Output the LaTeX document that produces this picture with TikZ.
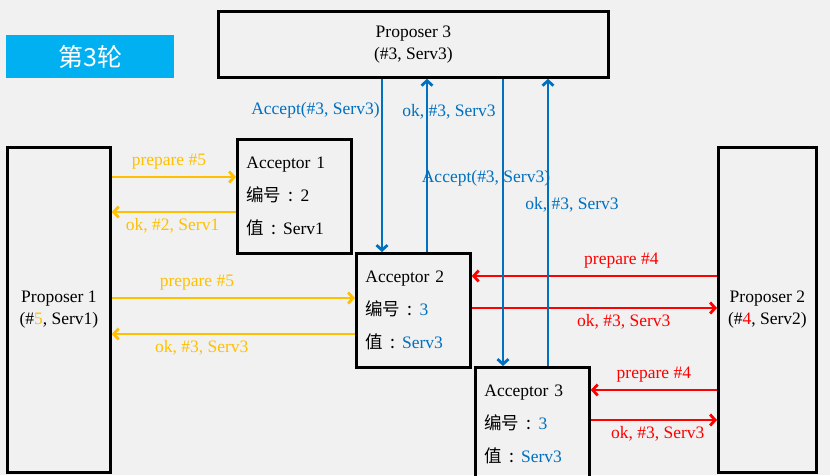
\documentclass[tikz,border=0pt]{standalone}
\usepackage{fontspec}
\setmainfont{Liberation Serif}
\newfontfamily\cjk{Noto Sans CJK SC}
\usetikzlibrary{arrows.meta}
\definecolor{gold}{HTML}{FFC000}
\definecolor{msred}{HTML}{FF0000}
\definecolor{msblue}{HTML}{0070C0}
\definecolor{titleblue}{HTML}{00B0F0}
\definecolor{paper}{HTML}{F1F1F1}
\newcommand{\numlbl}{{\cjk 编号\makebox[1.1em]{:}}}
\newcommand{\vallbl}{{\cjk 值\makebox[1.1em]{:}}}

\begin{document}
\begin{tikzpicture}
[x=1pt,y=-1pt,font=\fontsize{17.5}{22}\selectfont,
 box/.style={draw=black,line width=2.8pt,inner sep=0pt,align=center,anchor=north west},
 acc/.style={box,align=left,text width=96pt,inner xsep=9pt,minimum height=114pt,
   font=\fontsize{17.5}{33}\selectfont},
 msg/.style={-{Straight Barb[length=5pt,width=11pt]},line width=2.8pt}]

\fill[paper] (0,0) rectangle (830,475); %background
\useasboundingbox (0,0) rectangle (830,475);

\node[fill=titleblue,text=white,minimum width=168pt,minimum height=43pt,anchor=north west,
  font=\cjk\fontsize{25}{30}\selectfont] (title) at (6,35) {第3轮};

\node[box,minimum width=390pt,minimum height=66pt] (p3) at (217,10) {Proposer 3\\(\#3, Serv3)};
\node[box,minimum width=103pt,minimum height=325pt] (p1) at (6,146) {Proposer 1\\(\#\textcolor{gold}{5}, Serv1)};
\node[box,minimum width=98pt,minimum height=325pt] (p2) at (717,146) {Proposer 2\\(\#\textcolor{msred}{4}, Serv2)};

\node[acc] (a1) at (236,138) {Acceptor 1\\\numlbl 2\\\vallbl Serv1};
\node[acc] (a2) at (355,252) {Acceptor 2\\\numlbl\textcolor{msblue}{3}\\\vallbl\textcolor{msblue}{Serv3}};
\node[acc] (a3) at (474,366) {Acceptor 3\\\numlbl\textcolor{msblue}{3}\\\vallbl\textcolor{msblue}{Serv3}};

% proposer 1
\draw[msg,gold] (p1.east |- 0,177) -- node[above=3pt,pos=.46] {prepare \#5} (a1.west |- 0,177);
\draw[msg,gold] (a1.west |- 0,212) -- node[below=2pt,pos=.51] {ok, \#2, Serv1} (p1.east |- 0,212);
\draw[msg,gold] (p1.east |- 0,298) -- node[above=3pt,pos=.35] {prepare \#5} (a2.west |- 0,298);
\draw[msg,gold] (a2.west |- 0,334) -- node[below=2pt,pos=.63] {ok, \#3, Serv3} (p1.east |- 0,334);

% proposer 2
\draw[msg,msred] (p2.west |- 0,276) -- node[above=3pt,pos=.39] {prepare \#4} (a2.east |- 0,276);
\draw[msg,msred] (a2.east |- 0,308) -- node[below=2pt,pos=.62] {ok, \#3, Serv3} (p2.west |- 0,308);
\draw[msg,msred] (p2.west |- 0,390) -- node[above=3pt,pos=.5] {prepare \#4} (a3.east |- 0,390);
\draw[msg,msred] (a3.east |- 0,420) -- node[below=2pt,pos=.53] {ok, \#3, Serv3} (p2.west |- 0,420);

% proposer 3
\draw[msg,msblue] (p3.south -| 382,0) -- node[left,pos=.18,inner sep=1pt] {Accept(\#3, Serv3)} (a2.north -| 382,0);
\draw[msg,msblue] (a2.north -| 427,0) -- node[pos=.81,xshift=22pt] {ok, \#3, Serv3} (p3.south -| 427,0);
\draw[msg,msblue] (p3.south -| 503,0) -- node[pos=.345,xshift=-17pt] {Accept(\#3, Serv3)} (a3.north -| 503,0);
\draw[msg,msblue] (a3.north -| 548,0) -- node[pos=.56,xshift=24pt] {ok, \#3, Serv3} (p3.south -| 548,0);

\end{tikzpicture}
\end{document}
